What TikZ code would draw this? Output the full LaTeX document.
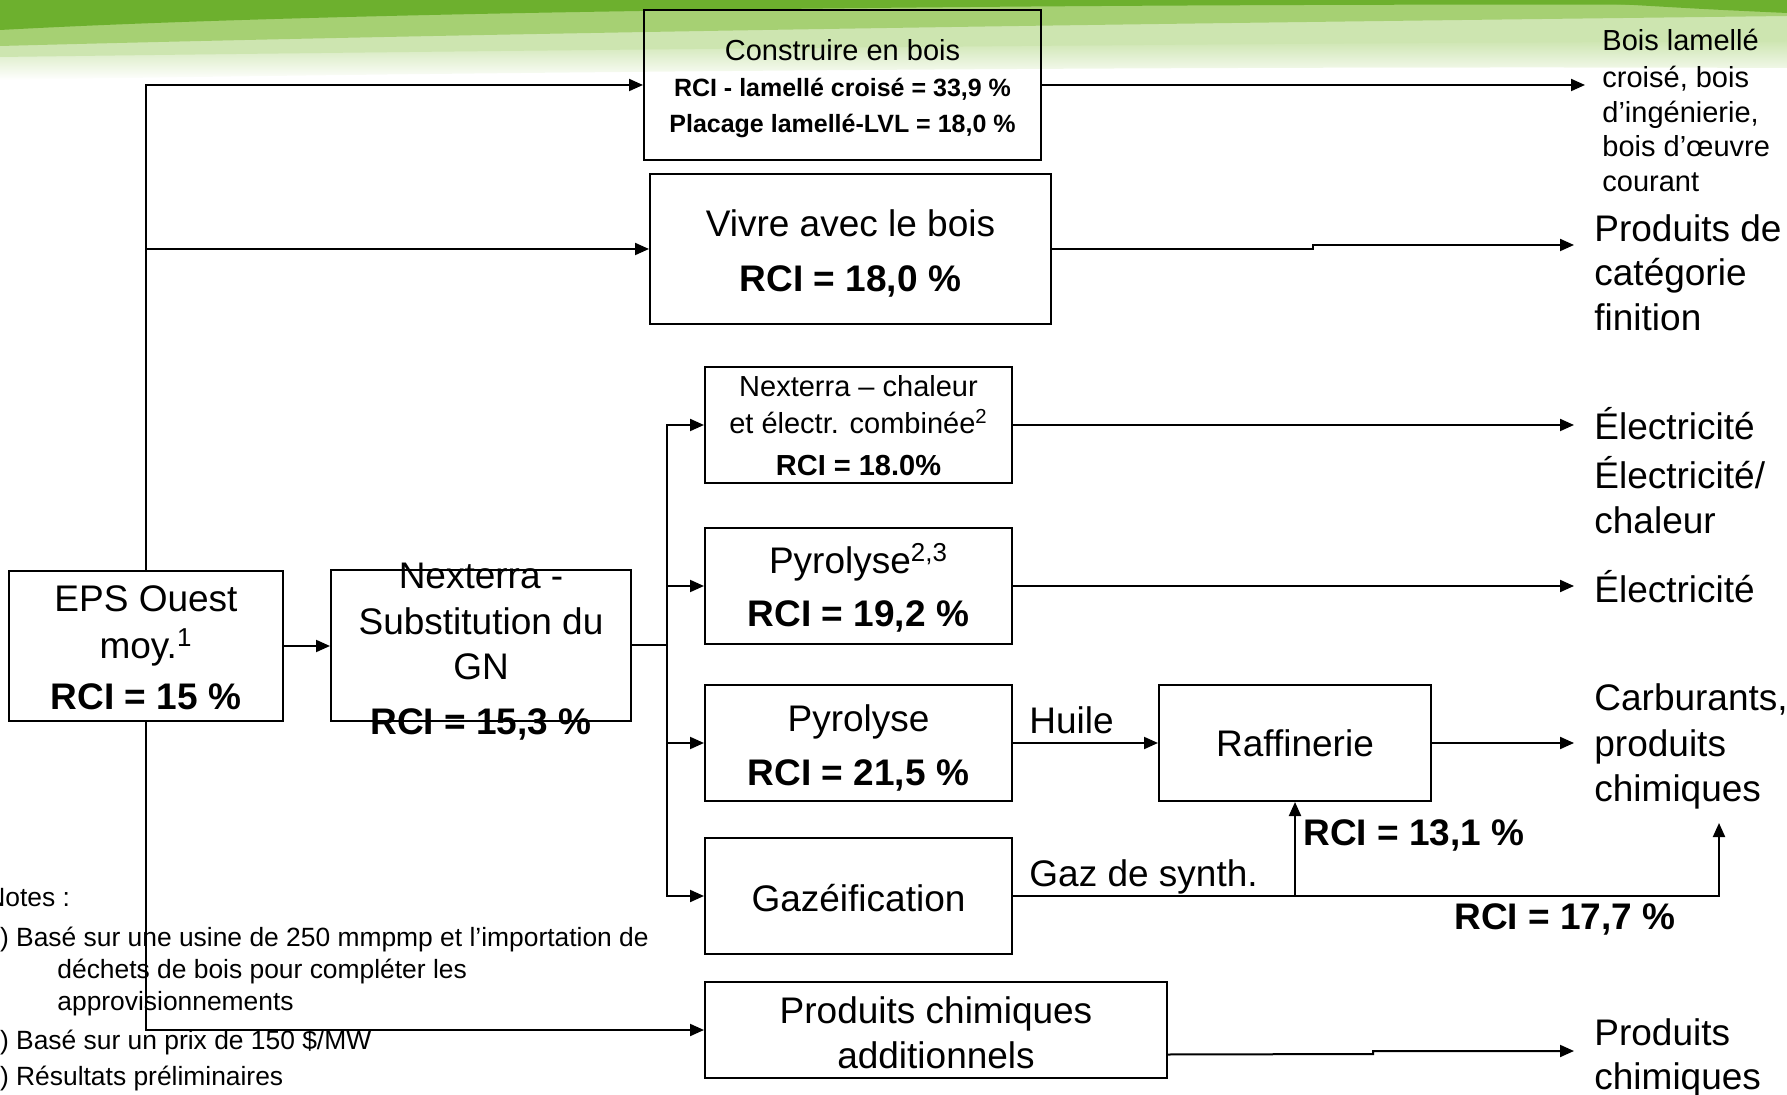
\documentclass[tikz,border=0pt]{standalone}
\usepackage{fontspec}
\setmainfont{Liberation Sans}
\usetikzlibrary{arrows.meta,calc}
\definecolor{gdark}{HTML}{6DB02E}
\definecolor{gmid}{HTML}{A6D073}
\definecolor{glight}{HTML}{CDE5B0}
\begin{document}
\begin{tikzpicture}[x=0.5pt,y=-0.5pt,
  box/.style={draw, line width=1pt, inner sep=0pt},
  lg/.style={font=\fontsize{18.5}{22}\selectfont, inner sep=0pt},
  lgb/.style={font=\fontsize{18.5}{22}\selectfont\bfseries, inner sep=0pt},
  md/.style={font=\fontsize{14.5}{17.5}\selectfont, inner sep=0pt},
  mdb/.style={font=\fontsize{14.5}{17.5}\selectfont\bfseries, inner sep=0pt},
  smb/.style={font=\fontsize{12.5}{15}\selectfont\bfseries, inner sep=0pt},
  nt/.style={font=\fontsize{13.2}{16}\selectfont, inner sep=0pt, anchor=base west},
  conn/.style={line width=1pt},
  arr/.style={conn, -{Triangle[length=7pt,width=6pt]}}]
\useasboundingbox (0,0) rectangle (1787,1095);
\clip (0,0) rectangle (1787,1095);
% banner
\shade[top color=glight, bottom color=white] (0,56) .. controls (600,48) and (1300,42) .. (1787,40) -- (1787,68) .. controls (1300,66) and (600,70) .. (0,80) -- cycle;
\fill[glight] (0,0) -- (1787,0) -- (1787,41) .. controls (1300,43) and (600,49) .. (0,57) -- cycle;
\fill[gmid] (0,0) -- (1787,0) -- (1787,16) .. controls (1300,22) and (600,30) .. (0,46) -- cycle;
\fill[gdark] (0,0) -- (1787,0) -- (1787,5) .. controls (1200,3) and (400,8) .. (0,30) -- cycle;
\fill[gdark] (1550,0) -- (1787,0) -- (1787,13) .. controls (1700,9) .. (1550,0);

% boxes
\node[box, minimum width=198.5pt, minimum height=75pt] (cons) at (842.5,85) {};
\node[box, minimum width=200.5pt, minimum height=75pt] (vivre) at (850.5,249) {};
\node[box, minimum width=137pt, minimum height=75pt] (eps) at (146,646) {};
\node[box, minimum width=150pt, minimum height=75.5pt] (nex) at (481,645.5) {};
\node[box, minimum width=153.5pt, minimum height=58pt] (chp) at (858.5,425) {};
\node[box, minimum width=153.5pt, minimum height=58pt] (pyr1) at (858.5,586) {};
\node[box, minimum width=153.5pt, minimum height=58pt] (pyr2) at (858.5,743) {};
\node[box, minimum width=136pt, minimum height=58pt] (raf) at (1295,743) {};
\node[box, minimum width=153.5pt, minimum height=58pt] (gaz) at (858.5,896) {};
\node[box, minimum width=231pt, minimum height=48pt] (pca) at (936,1030) {};

% box texts
\node[md, anchor=base] (cons1) at (842.5,61) {Construire en bois};
\node[smb, anchor=base] (cons2) at (842.5,97) {RCI - lamellé croisé = 33,9 \%};
\node[smb, anchor=base] (cons3) at (842.5,133) {Placage lamellé-LVL = 18,0 \%};
\node[lg, anchor=base] (viv1) at (850.5,237) {Vivre avec le bois};
\node[lgb, anchor=base] (viv2) at (850.5,292) {RCI = 18,0 \%};
\node[lg, anchor=base] (eps1) at (146,612) {EPS Ouest};
\node[lg, anchor=base] (eps2) at (146,659) {moy.\textsuperscript{1}};
\node[lgb, anchor=base] (eps3) at (146,709) {RCI = 15 \%};
\node[lg, anchor=base] (nex1) at (481,589) {Nexterra -};
\node[lg, anchor=base] (nex2) at (481,635) {Substitution du};
\node[lg, anchor=base] (nex3) at (481,680) {GN};
\node[lgb, anchor=base] (nex4) at (481,734) {RCI = 15,3 \%};
\node[md, anchor=base] (chp1) at (858.5,397) {Nexterra – chaleur};
\node[md, anchor=base] (chp2) at (858.5,434) {et électr. combinée\textsuperscript{2}};
\node[mdb, anchor=base] (chp3) at (858.5,476) {RCI = 18.0\%};
\node[lg, anchor=base] (pyra1) at (858.5,574) {Pyrolyse\textsuperscript{2,3}};
\node[lgb, anchor=base] (pyra2) at (858.5,627) {RCI = 19,2 \%};
\node[lg, anchor=base] (pyrb1) at (858.5,731) {Pyrolyse};
\node[lgb, anchor=base] (pyrb2) at (858.5,785) {RCI = 21,5 \%};
\node[lg, anchor=base] (raf1) at (1295,756) {Raffinerie};
\node[lg, anchor=base] (gaz1) at (858.5,911) {Gazéification};
\node[lg, anchor=base] (pca1) at (936,1023) {Produits chimiques};
\node[lg, anchor=base] (pca2) at (936,1068) {additionnels};

% right-hand outputs
\node[md, anchor=base west] (b1) at (1602,51) {Bois lamellé};
\node[md, anchor=base west] (b2) at (1602,88) {croisé, bois};
\node[md, anchor=base west] (b3) at (1602,123) {d’ingénierie,};
\node[md, anchor=base west] (b4) at (1602,157) {bois d’œuvre};
\node[md, anchor=base west] (b5) at (1602,192) {courant};
\node[lg, anchor=base west] (f1) at (1594,242) {Produits de};
\node[lg, anchor=base west] (f2) at (1594,286) {catégorie};
\node[lg, anchor=base west] (f3) at (1594,331) {finition};
\node[lg, anchor=base west] (e1) at (1594,440) {Électricité};
\node[lg, anchor=base west] (e2) at (1594,489) {Électricité/};
\node[lg, anchor=base west] (e3) at (1594,534) {chaleur};
\node[lg, anchor=base west] (e4) at (1594,603) {Électricité};
\node[lg, anchor=base west] (c1) at (1594,711) {Carburants,};
\node[lg, anchor=base west] (c2) at (1594,756) {produits};
\node[lg, anchor=base west] (c3) at (1594,801) {chimiques};
\node[lg, anchor=base west] (pc1) at (1594,1045) {Produits};
\node[lg, anchor=base west] (pc2) at (1594,1089) {chimiques};

% connector labels
\node[lg, anchor=base west] (huile) at (1029,733) {Huile};
\node[lg, anchor=base west] (gazs) at (1029,886) {Gaz de synth.};
\node[lgb, anchor=base west] (r131) at (1303,845) {RCI = 13,1 \%};
\node[lgb, anchor=base] (r177) at (1565,929) {RCI = 17,7 \%};

% notes
\node[nt] (n0) at (-14,906) {Notes :};
\node[nt] (n1) at (-15,946) {1) Basé sur une usine de 250 mmpmp et l’importation de};
\node[nt] (n1b) at (57,978) {déchets de bois pour compléter les};
\node[nt] (n1c) at (57,1010) {approvisionnements};
\node[nt] (n2) at (-15,1049) {2) Basé sur un prix de 150 \$/MW};
\node[nt] (n3) at (-15,1085) {3) Résultats préliminaires};

% connectors
\draw[arr] (eps.north) |- (cons.west);
\draw[arr] (eps.north) |- (vivre.west);
\draw[arr] (eps.south) |- (pca.west);
\draw[arr] (eps.east) -- (eps.east -| nex.west);
\coordinate (bus) at (667,645.5);
\draw[conn] (nex.east) -- (bus);
\draw[arr] (bus) |- (chp.west);
\draw[arr] (bus) |- (pyr1.west);
\draw[arr] (bus) |- (pyr2.west);
\draw[arr] (bus) |- (gaz.west);

\coordinate (o1) at (1585,85);
\draw[arr] (cons.east) -- (o1);
\coordinate (j1) at (1313,249);
\coordinate (j1b) at (1313,245);
\coordinate (o2) at (1574,245);
\draw[arr] (vivre.east) -- (j1) -- (j1b) -- (o2);
\coordinate (o3) at (1574,425);
\draw[arr] (chp.east) -- (o3);
\coordinate (o4) at (1574,586);
\draw[arr] (pyr1.east) -- (o4);
\draw[arr] (pyr2.east) -- (raf.west);
\coordinate (o5) at (1574,743);
\draw[arr] (raf.east) -- (o5);
\coordinate (g1) at (1719,896);
\coordinate (o6) at (1719,823);
\draw[arr] (gaz.east) -- (g1) -- (o6);
\draw[arr] (gaz.east -| raf.south) -- (raf.south);
\coordinate (p0) at ($(pca.south east)!0.25!(pca.north east)$);
\coordinate (p1) at (1373,1054);
\coordinate (p2) at (1373,1051);
\coordinate (o7) at (1574,1051);
\draw[arr] (p0) -- (p1) -- (p2) -- (o7);
\end{tikzpicture}
\end{document}
